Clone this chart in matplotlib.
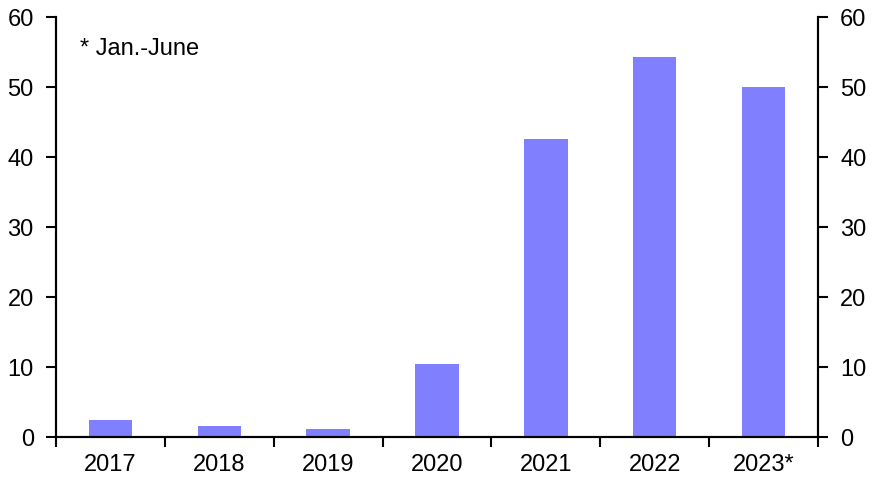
import matplotlib
matplotlib.use("Agg")
import matplotlib.pyplot as plt
import numpy as np

categories = ["2017", "2018", "2019", "2020", "2021", "2022", "2023*"]
values = [2.4, 1.6, 1.1, 10.4, 42.6, 54.3, 50.0]
yticks = [0, 10, 20, 30, 40, 50, 60]

plt.rcParams['font.family'] = ['Liberation Sans', 'DejaVu Sans']
FS = 17

fig = plt.figure(figsize=(8.74, 4.87), dpi=100)
ax = fig.add_axes([56/874, 1-437/487, (818-56)/874, (437-17)/487])

x = np.arange(len(categories))
ax.bar(x, values, width=0.4, color="#8080FF", zorder=2)

ax.set_xlim(-0.5, len(categories)-0.5)
ax.set_ylim(0, 60)
ax.set_yticks(yticks)
ax.set_yticklabels([str(t) for t in yticks], fontsize=FS)

ax.set_xticks(np.arange(-0.5, len(categories)), minor=False)
ax.set_xticklabels([])
ax.set_xticks(x, minor=True)
ax.set_xticklabels(categories, minor=True, fontsize=FS)
ax.tick_params(axis='x', which='major', length=7, width=1.5, direction='out')
ax.tick_params(axis='x', which='minor', length=0, pad=12)
ax.tick_params(axis='y', which='major', length=7, width=1.5, direction='out', pad=9)

ax.spines['top'].set_visible(False)
for s in ['left', 'right', 'bottom']:
    ax.spines[s].set_linewidth(1.5)
    ax.spines[s].set_color('black')

ax2 = ax.twinx()
ax2.set_ylim(0, 60)
ax2.set_yticks(yticks)
ax2.set_yticklabels([str(t) for t in yticks], fontsize=FS)
ax2.tick_params(axis='y', which='major', length=7, width=1.5, direction='out', pad=9)
ax2.spines['top'].set_visible(False)
for s in ['left', 'right', 'bottom']:
    ax2.spines[s].set_linewidth(1.5)

fig.text(80/874, 1-49/487, "* Jan.-June", fontsize=FS, va='center', ha='left')

fig.savefig("out.png", dpi=100)
